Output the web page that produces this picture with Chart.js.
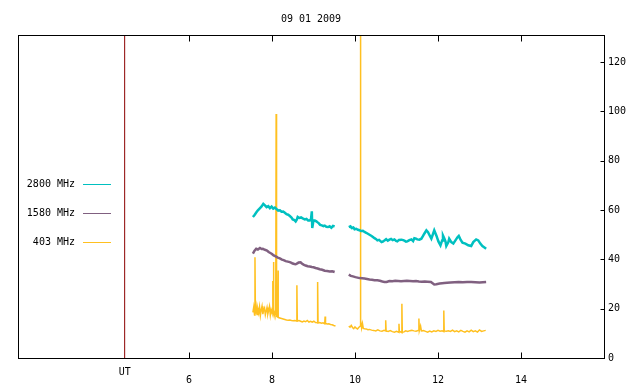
<!DOCTYPE html>
<html>
<head>
<meta charset="utf-8">
<script src="https://cdn.jsdelivr.net/npm/chart.js@4.4.1/dist/chart.umd.min.js"></script>
<style>
  html, body { margin: 0; padding: 0; background: #fff; }
  canvas { display: block; }
</style>
</head>
<body>
<canvas id="chart" width="640" height="384"></canvas>
<script>
// chart data (hours UT / flux)
var chartTitle = "09 01 2009";
var xTicks = [6, 8, 10, 12, 14];
var yTicks = [0, 20, 40, 60, 80, 100, 120];
var utMark = 4.45;
var gapAt = 9.7;
var legendLabels = ["2800 MHz", "1580 MHz", "403 MHz"];

// 2800 MHz
var t2800a = [7.54, 7.58, 7.62, 7.66, 7.70, 7.75, 7.79, 7.83, 7.87, 7.91,
              7.95, 7.99, 8.03, 8.07, 8.11, 8.15, 8.19, 8.23, 8.27, 8.31,
              8.35, 8.39, 8.43, 8.47, 8.50, 8.54, 8.57, 8.60, 8.62, 8.66,
              8.70, 8.74, 8.79, 8.83, 8.87, 8.91, 8.94, 8.96, 8.97, 9.00,
              9.03, 9.07, 9.10, 9.13, 9.16, 9.20, 9.24, 9.27, 9.31, 9.35,
              9.39, 9.43, 9.47, 9.51];
var v2800a = [57.2, 58.0, 59.0, 59.9, 60.6, 61.5, 62.5, 61.9, 61.2, 61.6,
              60.8, 61.4, 60.6, 61.0, 60.4, 59.8, 59.9, 59.3, 59.4, 58.9,
              58.3, 58.1, 57.6, 57.0, 56.2, 55.9, 55.4, 56.2, 57.2, 56.8,
              57.0, 56.6, 56.2, 56.4, 55.8, 55.8, 56.3, 59.5, 52.7, 55.8,
              55.8, 55.4, 55.0, 54.6, 54.0, 53.8, 53.5, 53.7, 53.2, 53.1,
              53.4, 52.8, 53.6, 53.4];
var t2800b = [9.85, 9.89, 9.92, 9.96, 9.99, 10.03, 10.07, 10.11, 10.15, 10.19,
              10.23, 10.27, 10.31, 10.35, 10.40, 10.44, 10.47, 10.51, 10.54, 10.58,
              10.64, 10.68, 10.71, 10.75, 10.79, 10.83, 10.87, 10.91, 10.95, 10.99,
              11.02, 11.06, 11.12, 11.16, 11.19, 11.23, 11.26, 11.31, 11.36, 11.40,
              11.43, 11.47, 11.50, 11.55, 11.60, 11.64, 11.67, 11.72, 11.76, 11.79,
              11.84, 11.89, 11.91, 11.96, 12.01, 12.06, 12.10, 12.12, 12.15, 12.18,
              12.20, 12.25, 12.27, 12.32, 12.37, 12.42, 12.47, 12.50, 12.54, 12.59,
              12.66, 12.73, 12.80, 12.85, 12.92, 12.97, 13.02, 13.07, 13.12, 13.16];
var v2800b = [53.1, 53.4, 52.7, 52.9, 52.2, 52.4, 52.0, 51.8, 51.5, 51.6,
              51.1, 50.8, 50.4, 50.0, 49.5, 49.0, 48.6, 48.2, 47.7, 47.9,
              47.0, 47.3, 47.7, 48.2, 47.6, 48.0, 48.3, 47.8, 48.1, 47.5,
              47.3, 47.9, 48.0, 47.8, 47.6, 47.2, 47.3, 47.8, 48.1, 47.4,
              48.6, 48.4, 48.1, 48.0, 48.4, 49.5, 50.4, 51.8, 51.0, 50.0,
              48.4, 50.8, 51.8, 49.7, 47.3, 45.7, 47.7, 49.7, 48.6, 47.3,
              45.4, 47.0, 48.4, 47.0, 46.4, 47.7, 49.0, 49.5, 48.1, 46.8,
              46.4, 45.7, 45.4, 47.0, 48.1, 47.7, 46.4, 45.4, 44.8, 44.3];

// 1580 MHz
var t1580a = [7.54, 7.58, 7.62, 7.66, 7.71, 7.75, 7.78, 7.83, 7.88, 7.92,
              7.95, 8.00, 8.04, 8.09, 8.14, 8.19, 8.24, 8.28, 8.33, 8.38,
              8.43, 8.47, 8.50, 8.54, 8.57, 8.61, 8.64, 8.69, 8.72, 8.76,
              8.81, 8.86, 8.91, 8.96, 9.00, 9.05, 9.10, 9.15, 9.21, 9.27,
              9.33, 9.39, 9.45, 9.51];
var v1580a = [42.3, 43.5, 44.3, 44.0, 44.6, 44.2, 44.3, 43.9, 43.6, 43.0,
              42.7, 42.2, 41.6, 41.2, 40.7, 40.4, 39.9, 39.7, 39.3, 39.1,
              38.9, 38.6, 38.3, 38.1, 38.0, 38.4, 38.7, 38.8, 38.3, 37.9,
              37.5, 37.2, 37.1, 36.9, 36.8, 36.5, 36.3, 36.0, 35.8, 35.4,
              35.3, 35.1, 35.2, 34.9];
var t1580b = [9.85, 9.90, 9.95, 10.01, 10.06, 10.11, 10.17, 10.23, 10.29, 10.35,
              10.41, 10.47, 10.54, 10.60, 10.66, 10.71, 10.76, 10.83, 10.90, 10.97,
              11.04, 11.11, 11.18, 11.25, 11.32, 11.40, 11.47, 11.54, 11.61, 11.68,
              11.75, 11.83, 11.87, 11.91, 11.96, 12.04, 12.10, 12.15, 12.22, 12.30,
              12.40, 12.50, 12.60, 12.70, 12.80, 12.90, 13.00, 13.08, 13.16];
var v1580b = [33.8, 33.3, 33.1, 32.8, 32.6, 32.4, 32.3, 32.2, 32.0, 31.8,
              31.7, 31.5, 31.5, 31.3, 31.0, 30.8, 30.8, 31.2, 31.1, 31.3,
              31.2, 31.1, 31.2, 31.3, 31.2, 31.1, 31.2, 31.0, 30.9, 31.0,
              30.9, 30.8, 30.3, 29.8, 29.9, 30.2, 30.3, 30.4, 30.5, 30.6,
              30.7, 30.8, 30.7, 30.8, 30.8, 30.7, 30.6, 30.7, 30.8];

// 403 MHz (spikes repeat the time so they stand upright)
var t403a = [7.54, 7.56, 7.58, 7.59, 7.59, 7.60, 7.62, 7.64, 7.66, 7.68,
             7.70, 7.72, 7.74, 7.76, 7.78, 7.80, 7.82, 7.84, 7.86, 7.88,
             7.90, 7.92, 7.94, 7.96, 7.98, 8.00, 8.02, 8.02, 8.03, 8.04,
             8.04, 8.05, 8.07, 8.09, 8.10, 8.10, 8.12, 8.14, 8.15, 8.15,
             8.19, 8.23, 8.27, 8.31, 8.35, 8.39, 8.43, 8.47, 8.51, 8.55,
             8.60, 8.60, 8.61, 8.65, 8.69, 8.73, 8.77, 8.81, 8.85, 8.89,
             8.93, 8.97, 9.01, 9.05, 9.10, 9.10, 9.11, 9.15, 9.19, 9.23,
             9.27, 9.28, 9.29, 9.33, 9.37, 9.41, 9.45, 9.49, 9.53];
var v403a = [18.5, 20.6, 17.4, 19.2, 40.9, 18.0, 20.8, 17.6, 19.9, 18.3,
             20.7, 17.2, 19.5, 21.0, 17.8, 19.6, 20.3, 17.5, 19.0, 20.5,
             17.9, 19.3, 20.9, 17.4, 19.6, 18.4, 20.2, 31.2, 18.5, 38.9,
             17.8, 19.0, 17.6, 17.8, 99.0, 17.3, 16.9, 16.6, 35.5, 16.4,
             16.2, 16.0, 15.8, 15.6, 15.4, 15.3, 15.4, 15.2, 15.1, 15.2,
             15.0, 29.5, 15.0, 15.2, 14.9, 14.6, 15.0, 14.7, 15.2, 14.6,
             14.9, 14.5, 14.9, 14.4, 14.3, 30.8, 14.2, 14.4, 14.1, 14.3,
             13.9, 16.8, 14.0, 13.8, 13.9, 13.6, 13.5, 13.2, 13.0];
var t403b = [9.85, 9.88, 9.91, 9.94, 9.97, 10.00, 10.03, 10.06, 10.09, 10.13,
             10.13, 10.14, 10.16, 10.18, 10.20, 10.23, 10.27, 10.31, 10.35, 10.40,
             10.45, 10.50, 10.55, 10.60, 10.65, 10.70, 10.74, 10.74, 10.75, 10.80,
             10.85, 10.90, 10.95, 11.00, 11.06, 11.06, 11.07, 11.10, 11.13, 11.13,
             11.14, 11.18, 11.22, 11.27, 11.32, 11.37, 11.42, 11.47, 11.54, 11.54,
             11.55, 11.58, 11.60, 11.65, 11.70, 11.75, 11.80, 11.85, 11.90, 11.95,
             12.00, 12.05, 12.10, 12.14, 12.14, 12.15, 12.20, 12.25, 12.30, 12.35,
             12.40, 12.45, 12.50, 12.55, 12.60, 12.65, 12.70, 12.75, 12.80, 12.85,
             12.90, 12.95, 13.00, 13.05, 13.10, 13.15];
var v403b = [12.9, 12.5, 13.2, 12.4, 11.9, 12.6, 12.1, 11.8, 12.4, 13.0,
             135, 15.3, 12.2, 14.0, 12.0, 11.9, 11.8, 11.5, 11.6, 11.3,
             11.2, 11.0, 11.4, 11.0, 10.9, 11.2, 11.0, 15.3, 11.0, 10.8,
             11.1, 10.7, 10.5, 10.8, 10.4, 13.9, 10.5, 10.6, 10.3, 22.0,
             10.4, 10.6, 11.0, 10.8, 11.1, 11.2, 11.0, 10.9, 11.3, 16.0,
             11.1, 13.0, 11.0, 11.1, 10.8, 10.5, 10.9, 10.6, 11.0, 10.8,
             11.2, 10.9, 11.0, 10.7, 19.3, 11.0, 10.9, 11.0, 10.8, 11.3,
             10.7, 11.0, 10.6, 11.2, 10.8, 10.5, 11.0, 10.6, 11.3, 10.7,
             11.0, 10.5, 11.4, 10.8, 11.0, 11.2];

var colors = ["#00c0c0", "#806080", "#ffc020"];
var utColor = "#8b0000";
var fontFamily = "'DejaVu Sans Mono', monospace";

function pairs(t, v) {
  var out = [];
  for (var i = 0; i < t.length; i++) out.push({ x: t[i], y: v[i] });
  return out;
}

// two runs of samples with a break between them
function series(ta, va, tb, vb) {
  return pairs(ta, va).concat([{ x: gapAt, y: null }], pairs(tb, vb));
}

var framePlugin = {
  id: "frame",
  afterDatasetsDraw: function (chart) {
    var ctx = chart.ctx;
    var a = chart.chartArea;
    var xs = chart.scales.x, ys = chart.scales.y;
    var L = Math.round(a.left) + 0.5, R = Math.round(a.right) + 0.5;
    var T = Math.round(a.top) + 0.5, B = Math.round(a.bottom) + 0.5;
    ctx.save();
    ctx.strokeStyle = "#000";
    ctx.lineWidth = 1;
    ctx.strokeRect(L, T, R - L, B - T);

    // inward tick marks
    ctx.beginPath();
    xTicks.forEach(function (t) {
      var px = Math.round(xs.getPixelForValue(t)) + 0.5;
      ctx.moveTo(px, B); ctx.lineTo(px, B - 6);
      ctx.moveTo(px, T); ctx.lineTo(px, T + 6);
    });
    yTicks.forEach(function (v) {
      var py = Math.round(ys.getPixelForValue(v)) + 0.5;
      ctx.moveTo(R, py); ctx.lineTo(R - 4, py);
    });
    ctx.stroke();

    ctx.fillStyle = "#000";
    ctx.font = "10px " + fontFamily;
    ctx.textBaseline = "middle";
    ctx.textAlign = "center";
    ctx.fillText(chartTitle, (a.left + a.right) / 2, 19);
    ctx.fillText("UT", xs.getPixelForValue(utMark), 372);

    // legend, left side inside the frame
    for (var i = 0; i < legendLabels.length; i++) {
      var y = 184 + i * 29;
      ctx.textAlign = "right";
      ctx.fillStyle = "#000";
      ctx.fillText(legendLabels[i], 75, y);
      ctx.strokeStyle = colors[i];
      ctx.beginPath();
      ctx.moveTo(83, y + 0.5);
      ctx.lineTo(111, y + 0.5);
      ctx.stroke();
    }
    ctx.restore();
  }
};

var ctx = document.getElementById("chart").getContext("2d");
var chart = new Chart(ctx, {
  type: "line",
  data: {
    datasets: [
      {
        label: "UT",
        data: [{ x: utMark, y: 0 }, { x: utMark, y: 131 }],
        borderColor: utColor,
        borderWidth: 1
      },
      {
        label: legendLabels[0],
        data: series(t2800a, v2800a, t2800b, v2800b),
        borderColor: colors[0],
        borderWidth: 2.5
      },
      {
        label: legendLabels[1],
        data: series(t1580a, v1580a, t1580b, v1580b),
        borderColor: colors[1],
        borderWidth: 2.5
      },
      {
        label: legendLabels[2],
        data: series(t403a, v403a, t403b, v403b),
        borderColor: colors[2],
        borderWidth: 1.5
      }
    ]
  },
  options: {
    responsive: false,
    animation: false,
    devicePixelRatio: 1,
    spanGaps: false,
    elements: {
      point: { radius: 0, hoverRadius: 0 },
      line: { tension: 0, fill: false }
    },
    layout: { padding: { left: 18, top: 35, right: 0, bottom: 0 } },
    plugins: {
      legend: { display: false },
      tooltip: { enabled: false },
      title: { display: false }
    },
    scales: {
      x: {
        type: "linear",
        min: 1.88,
        max: 16,
        grid: { display: false, drawTicks: false },
        border: { display: false },
        afterBuildTicks: function (scale) {
          scale.ticks = xTicks.map(function (v) { return { value: v }; });
        },
        afterFit: function (scale) { scale.height = 26; },
        ticks: {
          color: "#000",
          padding: 16,
          maxRotation: 0,
          autoSkip: false,
          font: { family: fontFamily, size: 10 }
        }
      },
      y: {
        type: "linear",
        position: "right",
        min: 0,
        max: 131,
        grid: { display: false, drawTicks: false },
        border: { display: false },
        afterBuildTicks: function (scale) {
          scale.ticks = yTicks.map(function (v) { return { value: v }; });
        },
        afterFit: function (scale) { scale.width = 36; },
        ticks: {
          color: "#000",
          padding: 4,
          font: { family: fontFamily, size: 10 }
        }
      }
    }
  },
  plugins: [framePlugin]
});
</script>
</body>
</html>
